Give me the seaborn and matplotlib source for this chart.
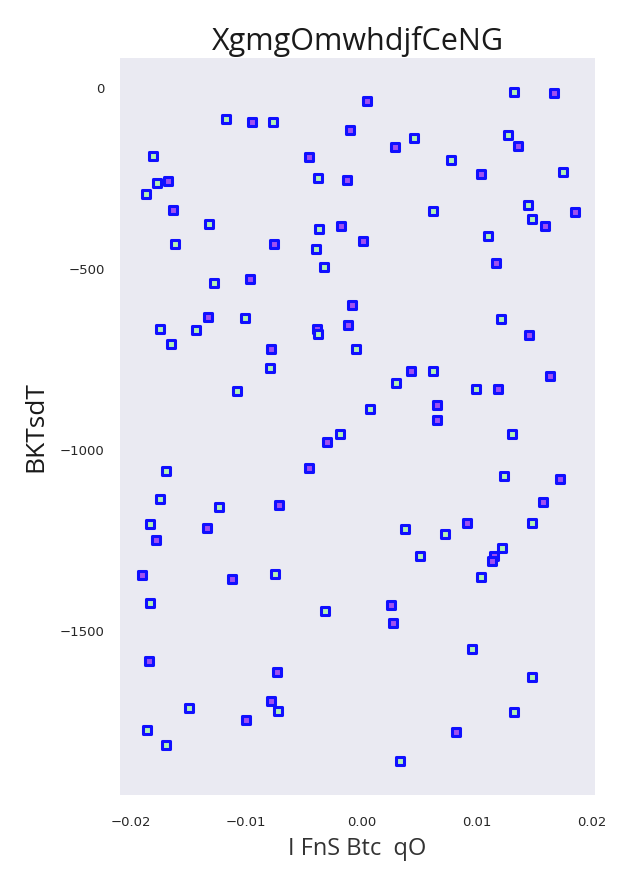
import matplotlib
matplotlib.use("Agg")
import matplotlib.pyplot as plt
import seaborn as sns
import pandas as pd

px_x = [367,514,554,226,252,273,350,508,518,395,414,153,309,451,481,563,318,347,168,157,
        146,173,433,528,575,532,545,209,341,319,363,488,175,274,316,496,324,250,214,352,
        501,208,245,348,160,196,317,318,529,171,271,356,270,411,433,550,396,476,498,237,
        437,370,437,512,340,327,166,309,504,560,160,543,219,279,150,207,405,467,532,445,
        156,502,494,420,492,142,275,232,481,150,391,325,393,472,149,532,277,189,271,278,
        514,246,147,456,166,400]
px_y = [101,92,93,119,122,122,130,135,146,147,138,156,157,160,174,172,178,180,181,183,
        194,210,211,205,212,219,226,224,226,229,241,236,244,244,249,263,267,279,283,305,
        319,317,318,325,329,330,329,334,335,344,349,349,368,371,371,376,383,389,389,391,
        405,409,420,434,434,442,471,468,476,479,499,502,507,505,524,528,529,523,523,534,
        540,548,556,556,561,575,574,579,577,603,605,611,623,649,661,677,672,708,701,711,
        712,720,730,732,745,761]
groups = ["b","a","b","a","b","a","b","a","b","b","a","a","b","a","b","a","a","b","b","a",
          "a","b","a","a","b","a","b","a","b","a","b","a","a","b","a","b","a","b","a","b",
          "a","b","a","b","a","a","b","a","b","a","b","a","a","b","a","b","a","a","b","a",
          "b","a","b","a","a","b","a","b","a","b","a","b","a","b","a","b","a","b","a","a",
          "b","a","b","a","b","b","a","b","a","a","b","a","b","a","b","a","b","a","b","a",
          "a","b","a","b","a","a"]

x_vals = [round((p - 361.5) / 11525.0, 5) for p in px_x]
y_vals = [round(-(p - 88) / 0.362, 1) for p in px_y]

x_ticks = [-0.02, -0.01, 0.0, 0.01, 0.02]
x_ticklabels = ["−0.02", "−0.01", "0.00", "0.01", "0.02"]
y_ticks = [0, -500, -1000, -1500]
y_ticklabels = ["0", "−500", "−1000", "−1500"]

df = pd.DataFrame({"x": x_vals, "y": y_vals, "g": groups})

sns.set_theme(style="dark")
plt.rcParams["font.family"] = ["DejaVu Sans"]

fig = plt.figure(figsize=(6.35, 8.89), dpi=100)
ax = fig.add_axes([120/635, 1-795/889, 475/635, 737/889])
sns.scatterplot(data=df, x="x", y="y", hue="g",
                palette={"a": "#b4f2b4", "b": "#a050f0"},
                marker="s", s=34, edgecolor="#1010ff", linewidth=2.2,
                legend=False, ax=ax)
ax.set_xlim(-0.02095, 0.02026)
ax.set_ylim(-1953, 83)
ax.set_xticks(x_ticks)
ax.set_xticklabels(x_ticklabels)
ax.set_yticks(y_ticks)
ax.set_yticklabels(y_ticklabels)
ax.tick_params(axis="both", labelsize=9.5, colors="#262626")
ax.tick_params(axis="x", pad=9)
ax.tick_params(axis="y", pad=5)
ax.set_title("XgmgOmwhdjfCeNG", fontsize=22, family="Open Sans", color="#1a1a1a", pad=6)
ax.set_xlabel("I FnS Btc  qO", fontsize=17, family="Open Sans", color="#333333", labelpad=6)
ax.set_ylabel("BKTsdT", fontsize=19, family="Open Sans", color="#1a1a1a", labelpad=8)
for s in ax.spines.values():
    s.set_visible(False)
fig.savefig("out.png", dpi=100)
